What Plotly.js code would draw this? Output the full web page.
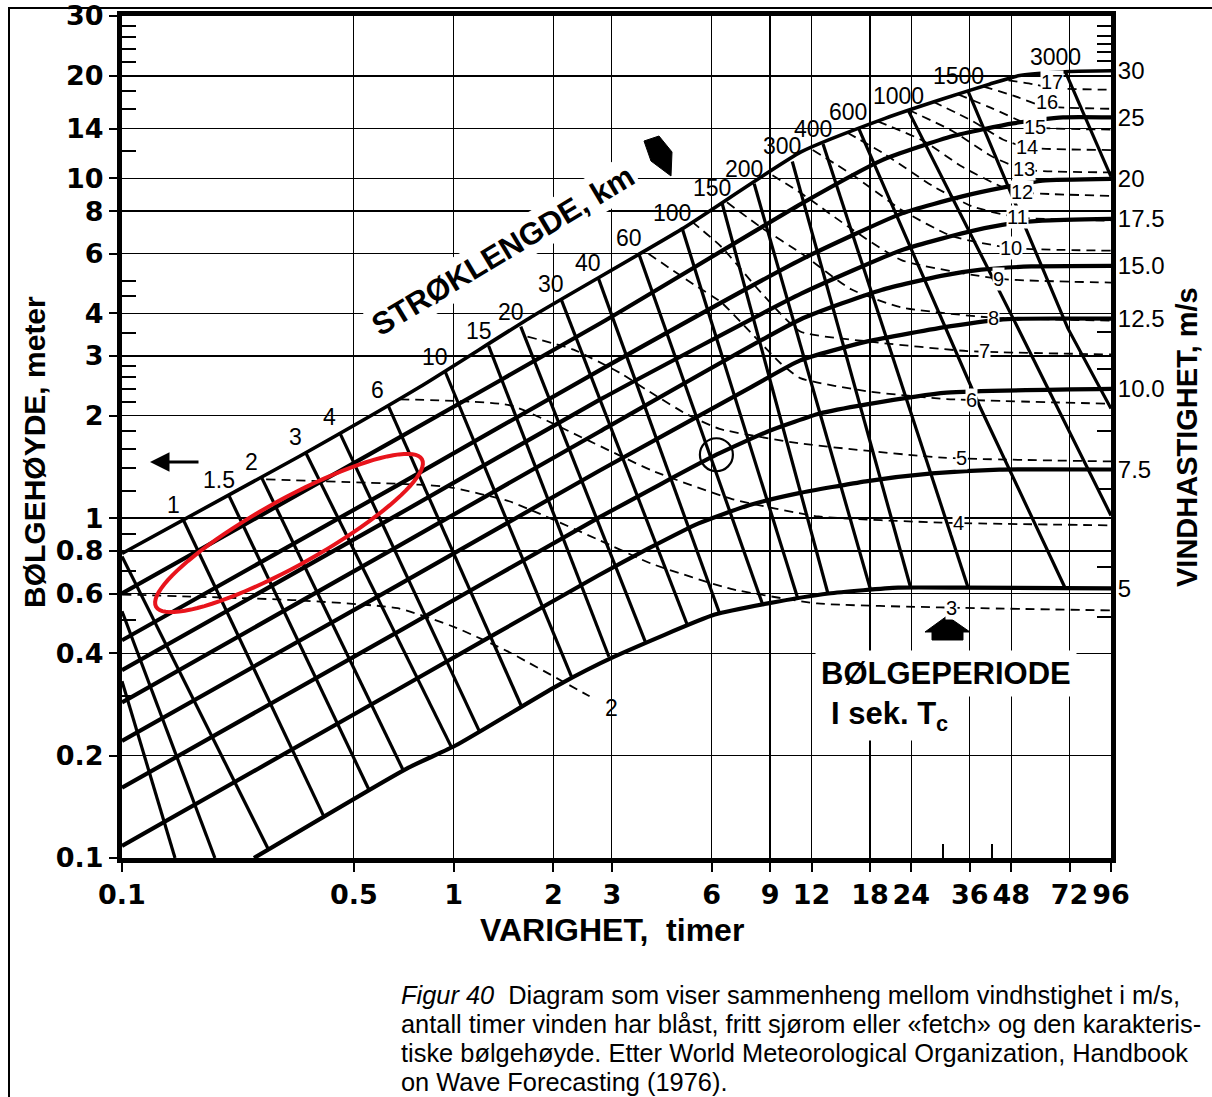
<!DOCTYPE html>
<html>
<head>
<meta charset="utf-8">
<script src="https://cdn.plot.ly/plotly-3.0.1.min.js"></script>
<style>html,body{margin:0;padding:0;background:#fff;}#chart{width:1212px;height:1097px;}</style>
</head>
<body>
<div id="chart"></div>
<script>
// ================= DATA =================
// Wind speed curves, m/s : duration (hours) -> characteristic wave height (m)
const windSpeeds = [30, 25, 20, 17.5, 15, 12.5, 10, 7.5, 5];
const windLabels = ['30', '25', '20', '17.5', '15.0', '12.5', '10.0', '7.5', '5'];
const windT = [
  [0.1, 0.343, 0.79, 1.74, 4.86, 11.2, 20, 29.8, 41.3, 50.9, 72, 96],
  [0.1, 0.687, 2.78, 11.2, 19.6, 32.0, 48.6, 68.8, 96],
  [0.1, 0.685, 2.77, 11.2, 22.5, 34.2, 46.0, 59.6, 96],
  [0.1, 0.683, 2.76, 11.2, 22.4, 34.1, 45.1, 59.5, 96],
  [0.1, 0.681, 2.75, 11.1, 19.5, 29.5, 39.0, 55.2, 96],
  [0.1, 0.680, 2.75, 7.84, 11.1, 17.7, 31.6, 46.9, 96],
  [0.1, 0.677, 2.74, 6.20, 8.97, 12.7, 17.6, 30.7, 96],
  [0.1, 0.674, 2.73, 3.87, 5.48, 7.77, 11.0, 17.5, 27.7, 44.2, 96],
  [0.25, 0.72, 1.02, 2.05, 3.05, 6.13, 8.86, 13.5, 21.9, 34.8, 96]
];
const windH = [
  [0.787, 1.52, 2.43, 3.94, 7.07, 11.97, 15.0, 17.1, 18.9, 20.05, 20.6, 20.7],
  [0.600, 1.728, 3.75, 8.42, 11.3, 13.3, 14.5, 15.1, 15.1],
  [0.437, 1.257, 2.73, 5.77, 7.88, 8.84, 9.41, 9.83, 9.95],
  [0.357, 1.027, 2.23, 4.58, 6.14, 6.88, 7.29, 7.50, 7.59],
  [0.287, 0.827, 1.795, 3.84, 4.69, 5.16, 5.38, 5.50, 5.52],
  [0.221, 0.635, 1.378, 2.42, 2.91, 3.31, 3.67, 3.85, 3.86],
  [0.161, 0.462, 1.003, 1.536, 1.807, 2.03, 2.16, 2.34, 2.40],
  [0.1085, 0.312, 0.678, 0.814, 0.965, 1.091, 1.184, 1.283, 1.353, 1.389, 1.39],
  [0.1, 0.183, 0.215, 0.321, 0.391, 0.520, 0.561, 0.600, 0.624, 0.624, 0.621]
];

// Fetch lines (STRØKLENGDE, km)
const fetchKm = [0.2, 0.3, 0.5, 1, 1.5, 2, 3, 4, 6, 10, 15, 20, 30, 40, 60, 100, 150, 200, 300, 400, 600, 1000, 1500, 3000];
const fetchLabels = ['', '', '', '1', '1.5', '2', '3', '4', '6', '10', '15', '20', '30', '40', '60', '100', '150', '200', '300', '400', '600', '1000', '1500', '3000'];
const fetchT = [
  [0.1, 0.1445], [0.1, 0.1906], [0.1, 0.2755], [0.1534, 0.405], [0.210, 0.555], [0.263, 0.704],
  [0.357, 0.984], [0.453, 1.196], [0.634, 1.60], [0.944, 2.27], [1.275, 2.94], [1.594, 3.79],
  [2.11, 5.07], [2.73, 6.34], [3.61, 8.55], [4.88, 10.9], [6.45, 13.45], [8.06, 18.1],
  [10.5, 23.9], [13.0, 35.6], [16.6, 38.6, 69.7], [23.5, 48.9, 96], [35.6, 71.1, 96], [70, 96]
];
const fetchH = [
  [0.331, 0.1], [0.532, 0.1], [0.771, 0.1066], [0.984, 0.1333], [1.166, 0.159], [1.322, 0.1815],
  [1.568, 0.2123], [1.788, 0.2357], [2.149, 0.280], [2.69, 0.3406], [3.21, 0.391], [3.66, 0.431],
  [4.40, 0.484], [5.09, 0.524], [6.03, 0.557], [7.16, 0.582], [8.44, 0.600], [9.63, 0.613],
  [11.2, 0.623], [12.6, 0.624], [14.1, 2.13, 0.625], [15.8, 3.83, 1.018], [18.0, 3.62, 2.10], [20.5, 10.1]
];

// Wave period curves (BØLGEPERIODE, s) – dashed
const periodS = [2, 3, 4, 5, 6, 7, 8, 9, 10, 11, 12, 13, 14, 15, 16, 17];
const periodT = [
  [0.1, 0.339, 0.678, 1.006, 1.45, 2.57],
  [0.272, 0.786, 0.968, 1.47, 2.73, 3.94, 6.86, 12.5, 29.4, 96],
  [0.689, 1.48, 2.52, 3.97, 6.91, 12.6, 29.6, 96],
  [1.67, 2.30, 3.18, 3.99, 5.05, 6.34, 11.0, 29.8, 96],
  [3.87, 5.31, 6.40, 7.86, 9.66, 11.1, 17.7, 30.7, 96],
  [5.23, 6.43, 8.46, 11.1, 17.7, 35.4, 96],
  [6.67, 8.50, 11.2, 15.8, 22.3, 41.7, 96],
  [9.15, 11.2, 15.9, 22.4, 43.9, 96],
  [12.1, 15.9, 22.5, 31.8, 48.2, 96],
  [15.4, 19.7, 27.8, 36.6, 50.0, 96],
  [19.0, 26.0, 34.2, 45.1, 51.8, 96],
  [23.5, 32.0, 42.2, 52.6, 96],
  [27.9, 36.8, 45.3, 53.9, 96],
  [33.2, 42.4, 52.1, 57.8, 96],
  [39.6, 48.7, 59.9, 96],
  [47.1, 56.0, 64.4, 96]
];
const periodH = [
  [0.596, 0.573, 0.543, 0.478, 0.406, 0.299],
  [1.30, 1.254, 1.233, 1.121, 0.864, 0.735, 0.619, 0.561, 0.546, 0.535],
  [2.235, 2.147, 1.70, 1.379, 1.138, 1.011, 0.970, 0.952],
  [3.42, 3.13, 2.67, 2.32, 2.02, 1.83, 1.66, 1.506, 1.468],
  [5.99, 4.86, 4.32, 3.52, 2.86, 2.58, 2.36, 2.24, 2.17],
  [7.45, 6.27, 4.60, 3.54, 3.31, 3.10, 3.03],
  [8.49, 7.14, 6.00, 4.71, 4.17, 3.89, 3.81],
  [10.2, 9.01, 7.07, 5.74, 5.06, 4.93],
  [12.1, 10.25, 8.05, 6.75, 6.23, 6.12],
  [13.6, 11.86, 9.49, 8.26, 7.67, 7.50],
  [14.7, 12.9, 10.8, 9.42, 9.08, 8.87],
  [15.9, 13.75, 11.56, 10.6, 10.4],
  [16.8, 14.7, 13.0, 12.3, 12.1],
  [17.65, 16.0, 14.6, 14.1, 13.9],
  [18.6, 17.5, 16.3, 16.0],
  [19.4, 18.9, 18.4, 18.2]
];

// Worked example (circled point)
const exampleT = [6.2];
const exampleH = [1.536];

// Axis ticks
const xTicks = [0.1, 0.5, 1, 2, 3, 6, 9, 12, 18, 24, 36, 48, 72, 96];
const xTickText = ['0.1', '0.5', '1', '2', '3', '6', '9', '12', '18', '24', '36', '48', '72', '96'];
const xMinor = [30, 42];
const yTicks = [0.1, 0.2, 0.4, 0.6, 0.8, 1, 2, 3, 4, 6, 8, 10, 14, 20, 30];
const yTickText = ['0.1', '0.2', '0.4', '0.6', '0.8', '1', '2', '3', '4', '6', '8', '10', '14', '20', '30'];
const yMinor = [0.3, 0.5, 0.7, 0.9, 1.2, 1.4, 1.6, 1.8, 2.2, 2.4, 2.6, 2.8, 3.5, 4.5, 5, 12, 16, 18, 22, 24, 26, 28];
const y2Minor = [0.51, 0.72, 1.22, 1.81, 2.75, 3.53, 22.1, 23.5, 24.8, 26.2, 28];

// ================= STYLE / LAYOUT =================
const SANS = 'Liberation Sans, Arial, sans-serif';
const BOLDF = 'DejaVu Sans, Liberation Sans, sans-serif';
const L = 122, R = 1111, T = 16, B = 858;          // plot area in page pixels
const px = x => (x - L) / (R - L);
const py = y => (B - y) / (B - T);
const lg = Math.log10;

// label placement along period curves (duration in hours) and small vertical nudges (px)
const periodLabelT = [2.75, 31.8, 33.4, 34, 36.5, 40, 42.6, 44, 48, 50, 51.8, 52.5, 53.6, 56.6, 61.5, 63.7];
const periodLabelNudge = [0, 0, 0, 0, 0, 0, 0, 0, 0, 0, 0, 0, 0, -1, 4, 6];

function interpLog(ts, hs, t) {
  const lt = lg(t);
  for (let i = 0; i < ts.length - 1; i++) {
    const a = lg(ts[i]), b = lg(ts[i + 1]);
    if (lt >= a && lt <= b) {
      const f = (lt - a) / (b - a);
      return Math.pow(10, lg(hs[i]) + f * (lg(hs[i + 1]) - lg(hs[i])));
    }
  }
  return hs[hs.length - 1];
}

const traces = [];
fetchT.forEach((t, i) => traces.push({
  x: t, y: fetchH[i], mode: 'lines', hoverinfo: 'skip',
  line: {color: '#000', width: 3.2}
}));
windT.forEach((t, i) => traces.push({
  x: t, y: windH[i], mode: 'lines', hoverinfo: 'skip',
  line: {color: '#000', width: i === 0 ? 3.6 : 4.2, shape: 'spline', smoothing: 0.5}
}));
periodT.forEach((t, i) => traces.push({
  x: t, y: periodH[i], mode: 'lines', hoverinfo: 'skip',
  line: {color: '#000', width: 1.8, dash: '9px,6px', shape: 'spline', smoothing: 0.5}
}));
traces.push({x: exampleT, y: exampleH, mode: 'markers', hoverinfo: 'skip',
  marker: {symbol: 'circle-open', size: 33, color: '#000', line: {width: 2.2, color: '#000'}}});
traces.push({x: [1], y: [1], yaxis: 'y2', mode: 'markers', marker: {opacity: 0}, hoverinfo: 'skip'});

const annotations = [];
const C = {xanchor: 'center', yanchor: 'middle', showarrow: false};
fetchT.forEach((t, i) => {
  if (!fetchLabels[i]) return;
  annotations.push(Object.assign({x: lg(t[0]), y: lg(fetchH[i][0]), xref: 'x', yref: 'y', text: fetchLabels[i],
    xshift: -10, yshift: 15, font: {family: SANS, size: 23, color: '#000'}}, C));
});
periodS.forEach((s, i) => {
  const t = periodLabelT[i];
  const h = interpLog(periodT[i], periodH[i], t);
  const a = Object.assign({x: lg(t), y: lg(h), xref: 'x', yref: 'y', text: String(s), yshift: periodLabelNudge[i],
    font: {family: SANS, size: 20, color: '#000'}, bgcolor: '#fff', borderpad: 0}, C);
  if (i === 0) { a.xshift = 12; a.yshift = -12; a.bgcolor = 'rgba(0,0,0,0)'; a.font = {family: SANS, size: 23, color: '#000'}; }
  annotations.push(a);
});
const txt = (x, y, text, o) => Object.assign({xref: 'paper', yref: 'paper', x: px(x), y: py(y), text: text}, C, o);
const titleFont = (s) => ({family: SANS, size: s, weight: 'bold', color: '#000'});
annotations.push(txt(35, 452, 'BØLGEHØYDE, meter', {textangle: -90, font: titleFont(30)}));
annotations.push(txt(1187, 437, 'VINDHASTIGHET, m/s', {textangle: -90, font: titleFont(29)}));
annotations.push(txt(612, 930, 'VARIGHET,  timer', {font: titleFont(32)}));
annotations.push(txt(503, 250, 'STRØKLENGDE, km', {textangle: -31, bgcolor: '#fff', borderpad: 2, font: titleFont(31)}));
annotations.push(txt(946, 673, 'BØLGEPERIODE', {bgcolor: '#fff', borderpad: 5, font: titleFont(31)}));
annotations.push(txt(826, 716, 'I sek. T<sub>c</sub>', {xanchor: 'left', bgcolor: '#fff', borderpad: 4, font: titleFont(31)}));
annotations.push({xref: 'paper', yref: 'paper', x: px(150), y: py(462), ax: 50, ay: 0, text: '',
  showarrow: true, arrowhead: 2, arrowsize: 1.3, arrowwidth: 3, arrowcolor: '#000'});
const capFont = {family: SANS, size: 25.4, color: '#000'};
const cap = [
  '<i>Figur 40</i>  Diagram som viser sammenheng mellom vindhstighet i m/s,',
  'antall timer vinden har blåst, fritt sjørom eller «fetch» og den karakteris-',
  'tiske bølgehøyde. Etter World Meteorological Organization, Handbook',
  'on Wave Forecasting (1976).'
];
const capY = [995, 1024, 1053, 1082];
cap.forEach((c, i) => annotations.push(txt(399, capY[i], c, {xanchor: 'left', font: capFont})));

function ellipsePath(cx, cy, a, b, deg) {
  const th = deg * Math.PI / 180; let s = '';
  for (let i = 0; i <= 90; i++) {
    const p = i / 90 * 2 * Math.PI, ex = a * Math.cos(p), ey = b * Math.sin(p);
    const X = cx + ex * Math.cos(th) + ey * Math.sin(th);
    const Y = cy - ex * Math.sin(th) + ey * Math.cos(th);
    s += (i ? 'L' : 'M') + px(X).toFixed(5) + ',' + py(Y).toFixed(5);
  }
  return s + 'Z';
}
function polyPath(pts) {
  return pts.map((p, i) => (i ? 'L' : 'M') + px(p[0]).toFixed(5) + ',' + py(p[1]).toFixed(5)).join('') + 'Z';
}
const shapes = [
  {type: 'rect', xref: 'paper', yref: 'paper', x0: px(9), x1: px(1230), y0: py(1120), y1: py(8),
    line: {color: '#000', width: 2}, layer: 'below'},
  {type: 'path', xref: 'paper', yref: 'paper', path: ellipsePath(289, 533, 152, 33, 29),
    line: {color: '#e8141c', width: 4}},
  {type: 'path', xref: 'paper', yref: 'paper', fillcolor: '#000', line: {color: '#000', width: 1},
    path: polyPath([[644, 141], [659, 136], [672, 152], [671, 176], [651, 161]])},
  {type: 'path', xref: 'paper', yref: 'paper', fillcolor: '#000', line: {color: '#000', width: 1},
    path: polyPath([[925, 632], [947, 616], [970, 632], [963, 632], [963, 640], [932, 640], [932, 632]])}
];

const axisLine = {showline: true, linecolor: '#000', linewidth: 5, mirror: true, zeroline: false};
const layout = {
  width: 1212, height: 1097,
  margin: {l: L, r: 1212 - R, t: T, b: 1097 - B},
  paper_bgcolor: '#fff', plot_bgcolor: '#fff', showlegend: false,
  xaxis: Object.assign({
    type: 'log', range: [-1, lg(96)], tickmode: 'array', tickvals: xTicks, ticktext: xTickText,
    ticks: 'outside', ticklen: 9, tickwidth: 2, tickcolor: '#000',
    showgrid: true, gridcolor: '#000', gridwidth: 1.3,
    tickfont: {family: BOLDF, size: 27, weight: 'bold', color: '#000'},
    minor: {tickmode: 'array', tickvals: xMinor, ticks: 'inside', ticklen: 14, tickwidth: 2, tickcolor: '#000', showgrid: false}
  }, axisLine),
  yaxis: Object.assign({
    type: 'log', range: [-1, lg(30)], tickmode: 'array', tickvals: yTicks, ticktext: yTickText,
    ticks: 'outside', ticklen: 8, tickwidth: 2, tickcolor: '#000',
    showgrid: true, gridcolor: '#000', gridwidth: 1.3,
    tickfont: {family: BOLDF, size: 27, weight: 'bold', color: '#000'},
    minor: {tickmode: 'array', tickvals: yMinor, ticks: 'inside', ticklen: 14, tickwidth: 2, tickcolor: '#000', showgrid: false}
  }, axisLine),
  yaxis2: {
    type: 'log', range: [-1, lg(30)], overlaying: 'y', side: 'right', showgrid: false, zeroline: false,
    showline: false, tickmode: 'array',
    tickvals: windH.map(h => h[h.length - 1]), ticktext: windLabels,
    ticks: 'outside', ticklen: 1, tickcolor: 'rgba(0,0,0,0)',
    tickfont: {family: SANS, size: 24, color: '#000'},
    minor: {tickmode: 'array', tickvals: y2Minor, ticks: 'inside', ticklen: 14, tickwidth: 2, tickcolor: '#000', showgrid: false}
  },
  annotations: annotations,
  shapes: shapes
};

Plotly.newPlot('chart', traces, layout, {displayModeBar: false, staticPlot: true});
</script>
</body>
</html>
